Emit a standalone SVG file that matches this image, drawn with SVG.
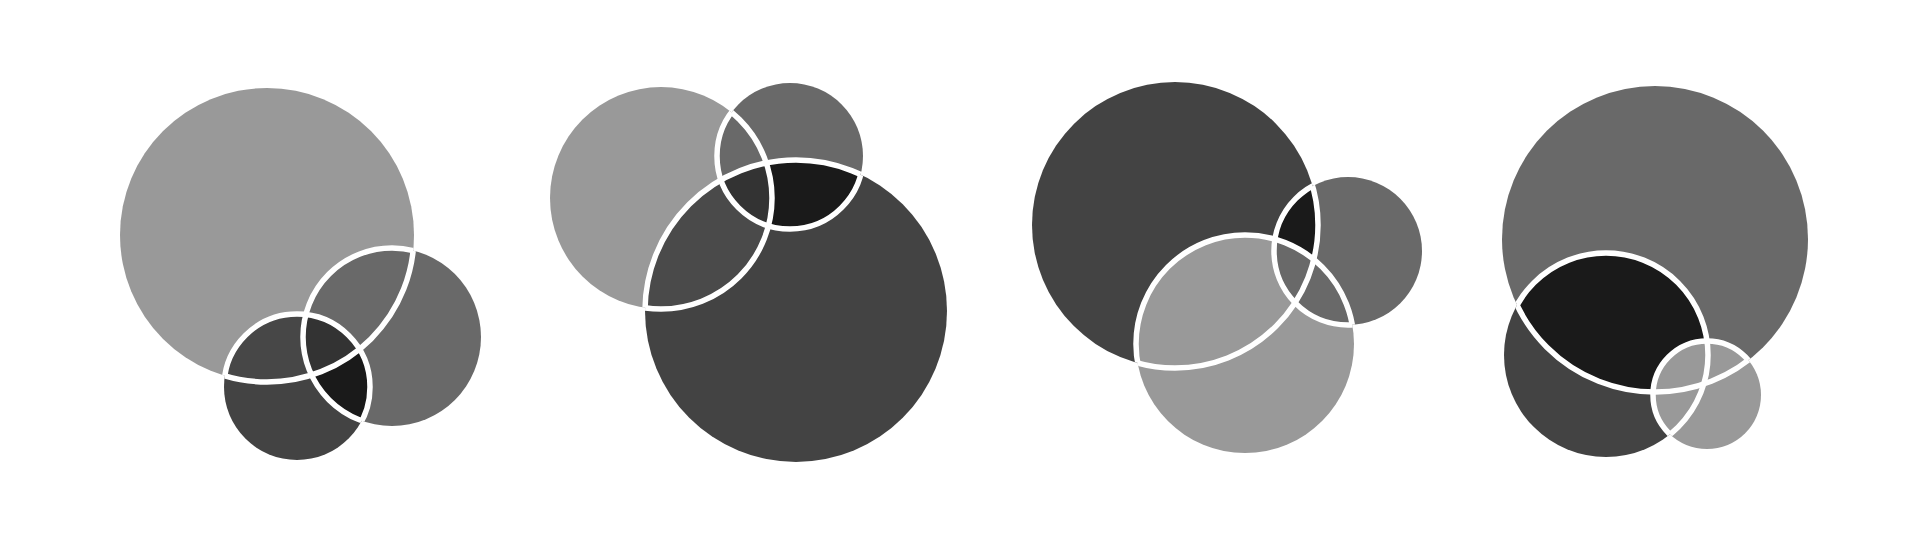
<svg xmlns="http://www.w3.org/2000/svg" width="1920" height="549" viewBox="0 0 1920 549">
<style>
.s{fill:none;stroke:#ffffff;stroke-width:5.5}
.l{fill:#999999}
.m{fill:#696969}
.d{fill:#434343}
.d2{fill:#4a4a4a}
.x{fill:#333333}
.k{fill:#1a1a1a}
</style>
<defs>
<clipPath id="g1A"><circle cx="267" cy="235" r="147"/></clipPath>
<clipPath id="g1B"><circle cx="392" cy="337" r="89"/></clipPath>
<clipPath id="g1BC"><circle cx="392" cy="337" r="89"/><circle cx="297" cy="387" r="73"/></clipPath>
<clipPath id="g1AC"><circle cx="267" cy="235" r="147"/><circle cx="297" cy="387" r="73"/></clipPath>
<clipPath id="g1AB"><circle cx="267" cy="235" r="147"/><circle cx="392" cy="337" r="89"/></clipPath>

<clipPath id="g2D"><circle cx="661" cy="198" r="111"/></clipPath>
<clipPath id="g2E"><circle cx="790" cy="156" r="73"/></clipPath>
<clipPath id="g2EF"><circle cx="790" cy="156" r="73"/><circle cx="796" cy="311" r="151"/></clipPath>
<clipPath id="g2DF"><circle cx="661" cy="198" r="111"/><circle cx="796" cy="311" r="151"/></clipPath>
<clipPath id="g2DE"><circle cx="661" cy="198" r="111"/><circle cx="790" cy="156" r="73"/></clipPath>

<clipPath id="g3G"><circle cx="1175" cy="225" r="143"/></clipPath>
<clipPath id="g3I"><circle cx="1245" cy="344" r="109"/></clipPath>
<clipPath id="g3HI"><circle cx="1348" cy="251" r="74"/><circle cx="1245" cy="344" r="109"/></clipPath>
<clipPath id="g3GI"><circle cx="1175" cy="225" r="143"/><circle cx="1245" cy="344" r="109"/></clipPath>
<clipPath id="g3GH"><circle cx="1175" cy="225" r="143"/><circle cx="1348" cy="251" r="74"/></clipPath>

<clipPath id="g4J"><circle cx="1655" cy="239" r="153"/></clipPath>
<clipPath id="g4KL"><circle cx="1606" cy="355" r="102"/><circle cx="1707" cy="395" r="54"/></clipPath>
<clipPath id="g4JL"><circle cx="1655" cy="239" r="153"/><circle cx="1707" cy="395" r="54"/></clipPath>
<clipPath id="g4JK"><circle cx="1655" cy="239" r="153"/><circle cx="1606" cy="355" r="102"/></clipPath>
</defs>
<rect width="1920" height="549" fill="#ffffff"/>

<g id="venn1">
<circle class="l" cx="267" cy="235" r="147"/>
<circle class="m" cx="392" cy="337" r="89"/>
<circle class="d" cx="297" cy="387" r="73"/>
<g clip-path="url(#g1B)"><circle class="k" cx="297" cy="387" r="73"/></g>
<g clip-path="url(#g1A)"><circle fill="#474747" cx="297" cy="387" r="73"/></g>
<g clip-path="url(#g1A)"><g clip-path="url(#g1B)"><circle class="x" cx="297" cy="387" r="73"/></g></g>
<g clip-path="url(#g1BC)"><circle class="s" cx="267" cy="235" r="147"/></g>
<g clip-path="url(#g1AC)"><circle class="s" cx="392" cy="337" r="89"/></g>
<g clip-path="url(#g1AB)"><circle class="s" cx="297" cy="387" r="73"/></g>
</g>

<g id="venn2">
<circle class="l" cx="661" cy="198" r="111"/>
<circle class="m" cx="790" cy="156" r="73"/>
<circle class="d" cx="796" cy="311" r="151"/>
<g clip-path="url(#g2D)"><circle class="d2" cx="796" cy="311" r="151"/></g>
<g clip-path="url(#g2E)"><circle class="k" cx="796" cy="311" r="151"/></g>
<g clip-path="url(#g2D)"><g clip-path="url(#g2E)"><circle class="x" cx="796" cy="311" r="151"/></g></g>
<g clip-path="url(#g2EF)"><circle class="s" cx="661" cy="198" r="111"/></g>
<g clip-path="url(#g2DF)"><circle class="s" cx="790" cy="156" r="73"/></g>
<g clip-path="url(#g2DE)"><circle class="s" cx="796" cy="311" r="151"/></g>
</g>

<g id="venn3">
<circle class="d" cx="1175" cy="225" r="143"/>
<circle class="l" cx="1245" cy="344" r="109"/>
<circle class="m" cx="1348" cy="251" r="74"/>
<g clip-path="url(#g3G)"><circle class="k" cx="1348" cy="251" r="74"/></g>
<g clip-path="url(#g3G)"><g clip-path="url(#g3I)"><circle class="m" cx="1348" cy="251" r="74"/></g></g>
<g clip-path="url(#g3HI)"><circle class="s" cx="1175" cy="225" r="143"/></g>
<g clip-path="url(#g3GI)"><circle class="s" cx="1348" cy="251" r="74"/></g>
<g clip-path="url(#g3GH)"><circle class="s" cx="1245" cy="344" r="109"/></g>
</g>

<g id="venn4">
<circle class="m" cx="1655" cy="239" r="153"/>
<circle class="d" cx="1606" cy="355" r="102"/>
<g clip-path="url(#g4J)"><circle class="k" cx="1606" cy="355" r="102"/></g>
<circle class="l" cx="1707" cy="395" r="54"/>
<g clip-path="url(#g4KL)"><circle class="s" cx="1655" cy="239" r="153"/></g>
<g clip-path="url(#g4JL)"><circle class="s" cx="1606" cy="355" r="102"/></g>
<g clip-path="url(#g4JK)"><circle class="s" cx="1707" cy="395" r="54"/></g>
</g>
</svg>
